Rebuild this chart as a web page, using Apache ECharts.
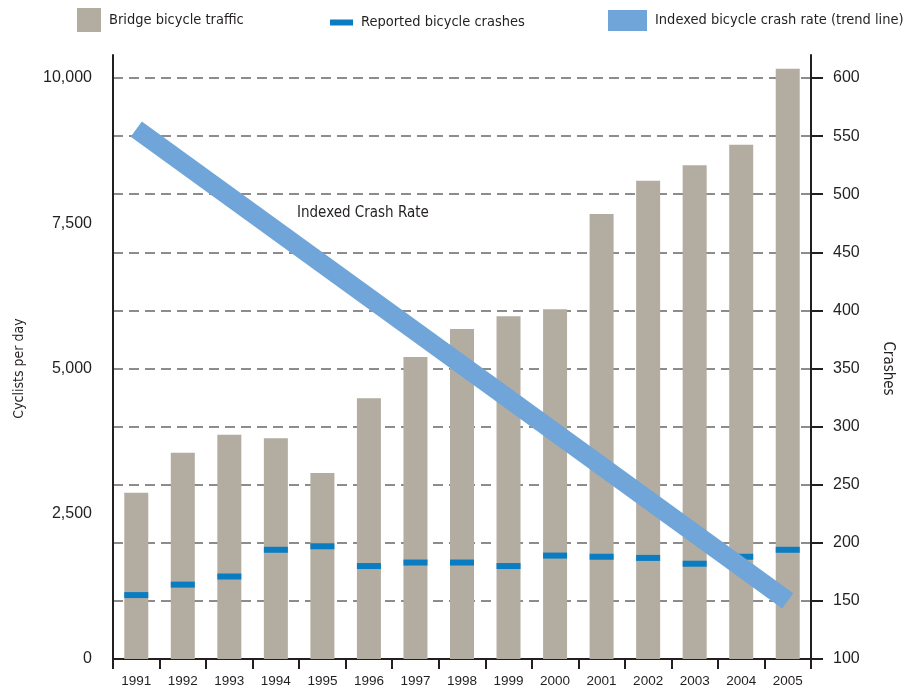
<!DOCTYPE html>
<html>
<head>
<meta charset="utf-8">
<script src="https://cdn.jsdelivr.net/npm/echarts@6/dist/echarts.min.js"></script>
<style>
html,body{margin:0;padding:0;background:#fff;}
#c{width:904px;height:690px;}
</style>
</head>
<body>
<div id="c"></div>
<script>
var years = ['1991','1992','1993','1994','1995','1996','1997','1998','1999','2000','2001','2002','2003','2004','2005'];
var bridgeTraffic = [2860, 3550, 3860, 3800, 3200, 4490, 5200, 5680, 5900, 6020, 7660, 8230, 8500, 8850, 10160];
var reportedCrashes = [155, 164, 171, 194, 197, 180, 183, 183, 180, 189, 188, 187, 182, 188, 194];
var trendRate = [556, null, null, null, null, null, null, null, null, null, null, null, null, null, 150];
var leftTicks = [0, 2500, 5000, 7500, 10000];
var rightTicks = [100, 150, 200, 250, 300, 350, 400, 450, 500, 550, 600];

var NARROW = '"DejaVu Sans Condensed", "Liberation Sans Narrow", sans-serif';
var SANS = '"Liberation Sans", Arial, sans-serif';
var INK = '#231f20';

function fmtLeft(v){
  if (leftTicks.indexOf(v) < 0) return '';
  return v.toLocaleString('en-US');
}
function fmtRight(v){
  return rightTicks.indexOf(v) < 0 ? '' : String(v);
}

var chart = echarts.init(document.getElementById('c'), null, {renderer:'canvas'});
var legendText = {fontFamily: NARROW, fontSize: 14.5, color: INK, padding:[4,0,0,3]};
chart.setOption({
  animation: false,
  backgroundColor: '#fff',
  legend: [
    {left: 77, top: 8, padding: 0, itemWidth: 24, itemHeight: 24, data: [{name:'Bridge bicycle traffic', icon:'rect'}], textStyle: legendText, selectedMode:false},
    {left: 330, top: 15, padding: 0, itemWidth: 23, itemHeight: 6, data: [{name:'Reported bicycle crashes', icon:'rect'}], textStyle: {fontFamily: NARROW, fontSize: 14.5, color: INK, padding:[0,0,0,3]}, selectedMode:false},
    {left: 608, top: 10, padding: 0, itemWidth: 39, itemHeight: 21, data: [{name:'Indexed bicycle crash rate (trend line)', icon:'rect'}], textStyle: legendText, selectedMode:false}
  ],
  grid: [
    {left: 113, right: 93, top: 78, bottom: 31, containLabel: false},
    {left: 113, right: 93, top: 55, bottom: 31, containLabel: false}
  ],
  xAxis: [
    {
      type: 'category', data: years, gridIndex: 0, boundaryGap: true,
      axisLine: {show: true, lineStyle: {color: INK, width: 2}},
      axisTick: {show: true, length: 10, inside: false, lineStyle: {color: INK, width: 2}},
      axisLabel: {fontFamily: SANS, fontSize: 13.5, color: INK, margin: 15},
      splitLine: {show: false}
    },
    {type: 'category', data: years, gridIndex: 1, show: false}
  ],
  yAxis: [
    {
      type: 'value', gridIndex: 0, position: 'left', min: 0, max: 10000, interval: 2500,
      name: 'Cyclists per day', nameLocation: 'middle', nameGap: 87, nameRotate: 90,
      nameTextStyle: {fontFamily: NARROW, fontSize: 14, color: INK},
      axisLine: {show: true, lineStyle: {color: INK, width: 2}},
      axisTick: {show: false},
      axisLabel: {formatter: fmtLeft, fontFamily: SANS, fontSize: 16, color: INK, margin: 21},
      splitLine: {show: false}
    },
    {
      type: 'value', gridIndex: 0, position: 'right', min: 100, max: 600, interval: 50,
      name: 'Crashes', nameLocation: 'middle', nameGap: 69, nameRotate: -90,
      nameTextStyle: {fontFamily: NARROW, fontSize: 15, color: INK},
      axisLine: {show: true, lineStyle: {color: INK, width: 2}},
      axisTick: {show: true, inside: false, length: 12, lineStyle: {color: INK, width: 2}},
      axisLabel: {formatter: fmtRight, fontFamily: SANS, fontSize: 16, color: INK, margin: 22},
      splitLine: {show: true, lineStyle: {color: '#8c8c8c', width: 2, type: [10, 6]}}
    },
    {
      type: 'value', gridIndex: 1, position: 'left', min: 0, max: 1,
      axisLine: {show: true, lineStyle: {color: INK, width: 2}},
      axisTick: {show: false}, axisLabel: {show: false}, splitLine: {show: false}
    },
    {
      type: 'value', gridIndex: 1, position: 'right', min: 0, max: 1,
      axisLine: {show: true, lineStyle: {color: INK, width: 2}},
      axisTick: {show: false}, axisLabel: {show: false}, splitLine: {show: false}
    }
  ],
  series: [
    {
      name: 'Bridge bicycle traffic', type: 'bar', xAxisIndex: 0, yAxisIndex: 0,
      data: bridgeTraffic, barWidth: 24, clip: false, z: 2,
      itemStyle: {color: '#b3ada1'}
    },
    {
      name: 'Reported bicycle crashes', type: 'scatter', xAxisIndex: 0, yAxisIndex: 1,
      data: reportedCrashes, symbol: 'rect', symbolSize: [24, 6], z: 3,
      itemStyle: {color: '#0a7cc2', opacity: 1}
    },
    {
      name: 'Indexed bicycle crash rate (trend line)', type: 'line', xAxisIndex: 0, yAxisIndex: 1,
      data: trendRate, connectNulls: true, showSymbol: false, symbol: 'none', z: 4,
      lineStyle: {color: '#6fa5d8', width: 19, cap: 'butt'},
      itemStyle: {color: '#6fa5d8'}
    }
  ],
  graphic: [
    {type: 'text', left: 297, top: 206, z: 10,
     style: {text: 'Indexed Crash Rate', font: '15px ' + NARROW, fill: INK}}
  ]
});
</script>
</body>
</html>
